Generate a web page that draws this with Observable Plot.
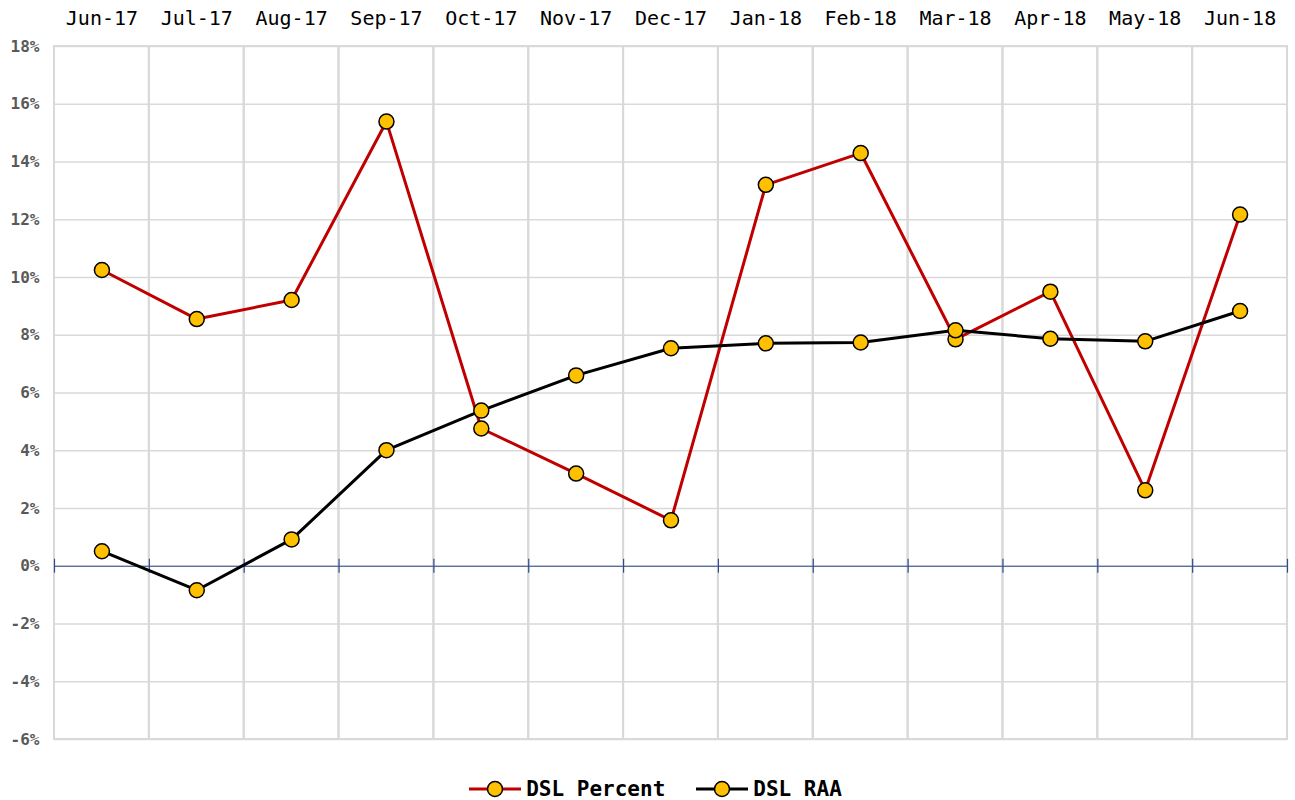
<!DOCTYPE html>
<html>
<head>
<meta charset="utf-8">
<script src="https://cdn.jsdelivr.net/npm/d3@7"></script>
<script src="https://cdn.jsdelivr.net/npm/@observablehq/plot@0.6"></script>
<style>
  html, body { margin: 0; padding: 0; background: #fff; overflow: hidden; }
  #chart svg { display: block; max-width: none; }
  #legend {
    box-sizing: border-box;
    display: flex; justify-content: center; align-items: center;
    height: 48px; gap: 31px; padding-left: 16px;
    font-family: "DejaVu Sans Mono", monospace; font-weight: bold; font-size: 21px; color: #000;
  }
  .item { display: flex; align-items: center; gap: 5px; }
  .item svg { display: block; }
</style>
</head>
<body>
<div id="chart"></div>
<div id="legend"></div>
<script>
const months = ["Jun-17","Jul-17","Aug-17","Sep-17","Oct-17","Nov-17","Dec-17","Jan-18","Feb-18","Mar-18","Apr-18","May-18","Jun-18"];
const dslPercent = [10.26, 8.56, 9.22, 15.40, 4.77, 3.21, 1.59, 13.21, 14.31, 7.86, 9.51, 2.63, 12.18];
const dslRAA = [0.52, -0.83, 0.93, 4.02, 5.39, 6.61, 7.55, 7.72, 7.75, 8.17, 7.88, 7.79, 8.84];
const yTicks = [-6, -4, -2, 0, 2, 4, 6, 8, 10, 12, 14, 16, 18];
const seriesNames = ["DSL Percent", "DSL RAA"];
const seriesColors = ["#C00000", "#000000"];

const W = 1295, H = 765, mL = 54, mR = 8, mT = 46, mB = 26;
const bw = (W - mL - mR) / months.length;

const pct = months.map((m, i) => ({month: m, value: dslPercent[i]}));
const raa = months.map((m, i) => ({month: m, value: dslRAA[i]}));

const chart = Plot.plot({
  width: W, height: H,
  marginLeft: mL, marginRight: mR, marginTop: mT, marginBottom: mB,
  style: {background: "#fff"},
  x: {type: "band", domain: months, padding: 0, round: false, range: [mL, W - mR]},
  y: {domain: [yTicks[0], yTicks[yTicks.length - 1]], range: [H - mB, mT]},
  marks: [
    Plot.ruleY(yTicks, {stroke: "#d9d9d9", strokeWidth: 1.5}),
    Plot.barY(months, {x: d => d, y1: yTicks[0], y2: yTicks[yTicks.length - 1], fill: "none", stroke: "#d9d9d9", strokeWidth: 2, inset: 0}),
    Plot.ruleY([0], {stroke: "#2f4b8c", strokeWidth: 1.2}),
    Plot.ruleX(months, {x: d => d, y1: -0.24, y2: 0.24, dx: -bw / 2, stroke: "#2f4b8c", strokeWidth: 1.2}),
    Plot.ruleX([months[months.length - 1]], {x: d => d, y1: -0.24, y2: 0.24, dx: bw / 2, stroke: "#2f4b8c", strokeWidth: 1.2}),
    Plot.line(pct, {x: "month", y: "value", stroke: seriesColors[0], strokeWidth: 3}),
    Plot.dot(pct, {x: "month", y: "value", r: 7.5, fill: "#FFC000", stroke: "#000", strokeWidth: 1.5}),
    Plot.line(raa, {x: "month", y: "value", stroke: seriesColors[1], strokeWidth: 3}),
    Plot.dot(raa, {x: "month", y: "value", r: 7.5, fill: "#FFC000", stroke: "#000", strokeWidth: 1.5}),
    Plot.axisX({anchor: "top", tickSize: 0, tickPadding: 22, fontSize: 20, fontFamily: "DejaVu Sans Mono", fill: "#000", label: null}),
    Plot.axisY({ticks: yTicks, tickFormat: d => `${d}%`, tickSize: 0, tickPadding: 15, fontSize: 16, fontWeight: "bold", fontFamily: "DejaVu Sans Mono", fill: "#595959", label: null})
  ]
});
document.getElementById("chart").append(chart);

const legend = document.getElementById("legend");
seriesNames.forEach((name, i) => {
  const item = document.createElement("div");
  item.className = "item";
  item.innerHTML = `<svg width="52" height="20"><line x1="0" y1="10" x2="52" y2="10" stroke="${seriesColors[i]}" stroke-width="3"/><circle cx="26" cy="10" r="7.5" fill="#FFC000" stroke="#000" stroke-width="1.5"/></svg><span>${name}</span>`;
  legend.append(item);
});
</script>
</body>
</html>
